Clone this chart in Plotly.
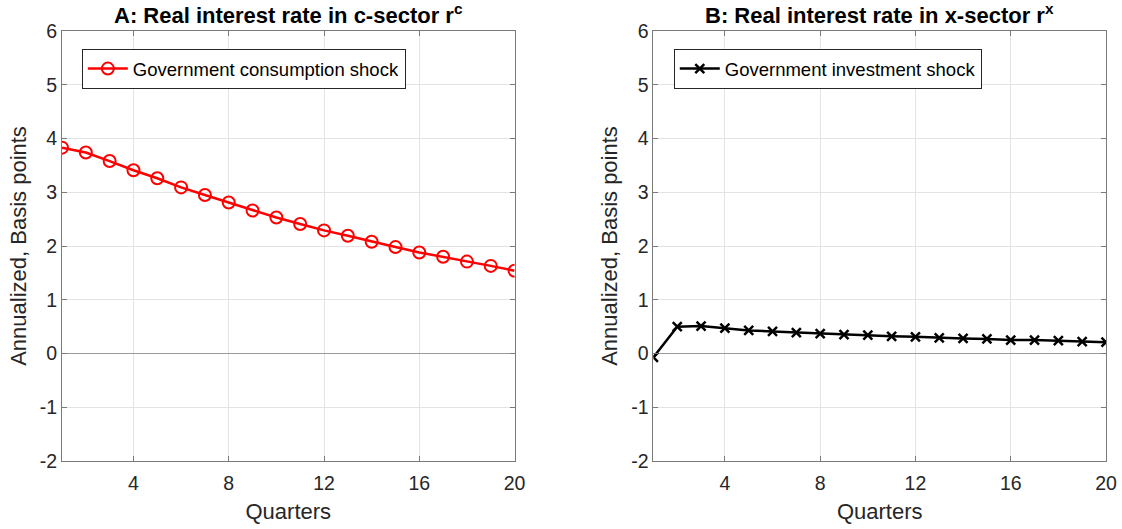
import plotly.graph_objects as go
from plotly.subplots import make_subplots

quarters = list(range(1, 21))
r_c = [3.83, 3.74, 3.58, 3.41, 3.26, 3.09, 2.95, 2.81, 2.66, 2.53,
       2.41, 2.29, 2.19, 2.08, 1.98, 1.88, 1.80, 1.71, 1.63, 1.54]
r_x = [-0.07, 0.50, 0.51, 0.47, 0.43, 0.41, 0.39, 0.37, 0.35, 0.34,
       0.32, 0.31, 0.29, 0.28, 0.27, 0.25, 0.25, 0.24, 0.22, 0.21]
x_ticks = [4, 8, 12, 16, 20]
y_ticks = [-2, -1, 0, 1, 2, 3, 4, 5, 6]
y_tick_labels = [str(v) for v in y_ticks]

FONT = "Liberation Sans, Arial, sans-serif"
AXC = "#262626"
fig = make_subplots(rows=1, cols=2, horizontal_spacing=0.133)

fig.add_trace(go.Scatter(
    x=quarters, y=r_c, mode="lines+markers", name="Government consumption shock",
    line=dict(color="#ff0000", width=2.5),
    marker=dict(symbol="circle-open", size=12, color="#ff0000", line=dict(width=2)),
    legend="legend"), row=1, col=1)
fig.add_trace(go.Scatter(
    x=quarters, y=r_x, mode="lines+markers", name="Government investment shock",
    line=dict(color="#000000", width=2.5),
    marker=dict(symbol="x-thin-open", size=9, color="#000000", line=dict(width=2.5, color="#000000")),
    legend="legend2"), row=1, col=2)

axis_common = dict(showline=True, linecolor="#7a7a7a", linewidth=1, mirror="ticks",
                   ticks="inside", ticklen=5, tickcolor="#7a7a7a",
                   showgrid=True, gridcolor="#e3e3e3", gridwidth=1, automargin=False,
                   tickfont=dict(family=FONT, size=19.5, color=AXC))
for c in (1, 2):
    fig.update_xaxes(range=[1, 20], tickvals=x_ticks, zeroline=False, ticklabelstandoff=5,
                     title=dict(text="Quarters", font=dict(family=FONT, size=22, color=AXC), standoff=10),
                     row=1, col=c, **axis_common)
    fig.update_yaxes(range=[-2, 6], tickvals=y_ticks, ticktext=y_tick_labels,
                     zeroline=True, zerolinecolor="#9a9a9a", zerolinewidth=1,
                     title=dict(text="Annualized, Basis points", font=dict(family=FONT, size=22, color=AXC), standoff=7),
                     row=1, col=c, **axis_common)

titles = ["<b>A: Real interest rate in c-sector r<sup>c</sup></b>",
          "<b>B: Real interest rate in x-sector r<sup>x</sup></b>"]
for i, t in enumerate(titles):
    xref = "x domain" if i == 0 else "x2 domain"
    fig.add_annotation(text=t, xref=xref, yref="paper", x=0.5, y=1.0, yanchor="bottom", yshift=1,
                       showarrow=False, font=dict(family=FONT, size=22, color="#000000"))

legend_style = dict(bgcolor="white", bordercolor=AXC, borderwidth=1,
                    font=dict(family=FONT, size=18.5, color="#000000"),
                    xanchor="left", yanchor="top", itemwidth=40, tracegroupgap=0)
fig.update_layout(
    width=1122, height=529,
    margin=dict(l=62, r=16, t=31, b=68),
    plot_bgcolor="white", paper_bgcolor="white",
    showlegend=True,
    legend=dict(x=0.019, y=0.958, **legend_style),
    legend2=dict(x=0.586, y=0.958, **legend_style),
)
fig.write_html("out.html", config={"displayModeBar": False},
               post_script="document.body.style.margin='0';document.body.style.overflow='hidden';")
